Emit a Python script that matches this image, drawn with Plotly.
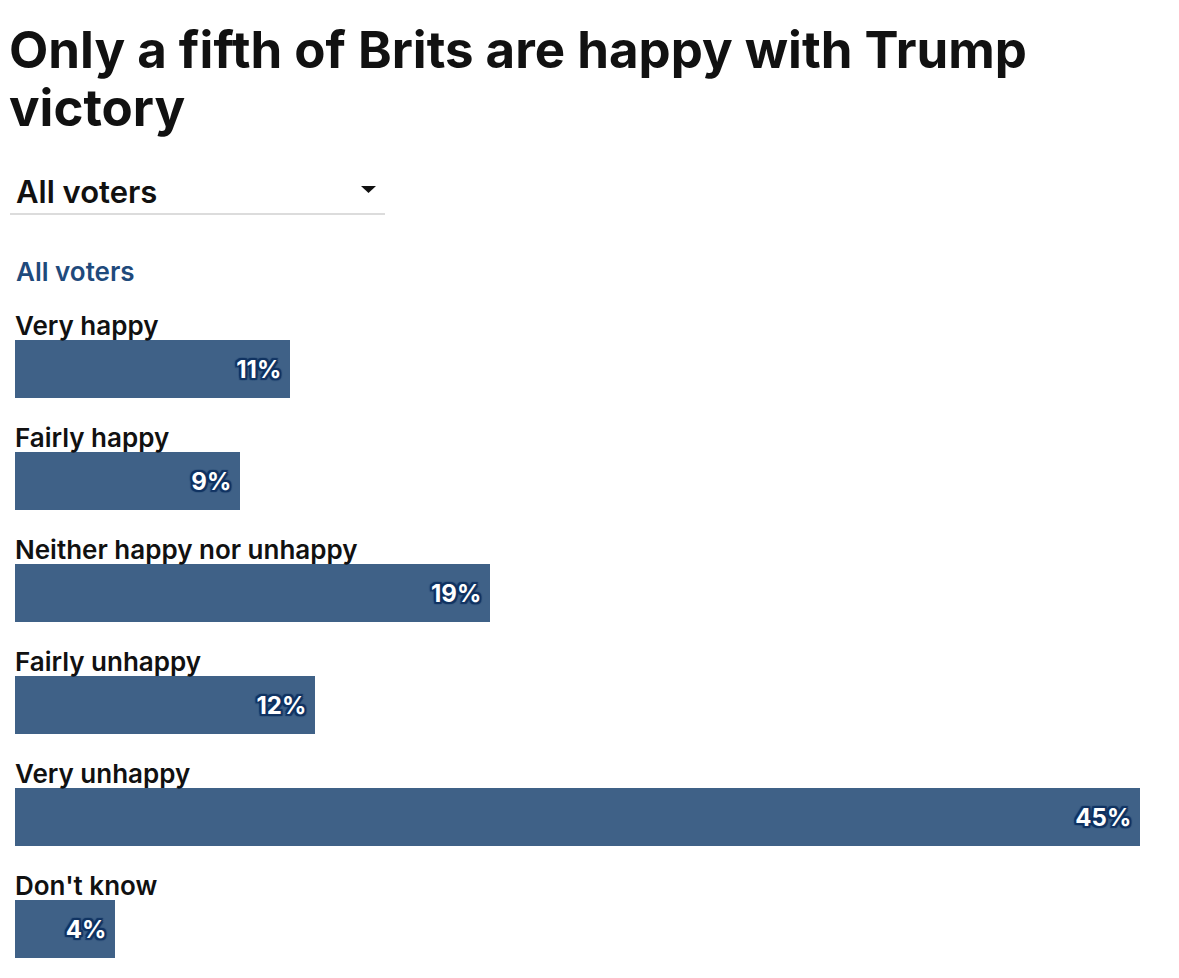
import plotly.graph_objects as go

categories = ["Very happy", "Fairly happy", "Neither happy nor unhappy",
              "Fairly unhappy", "Very unhappy", "Don't know"]
values = [11, 9, 19, 12, 45, 4]
value_labels = ["11%", "9%", "19%", "12%", "45%", "4%"]

title_lines = ["Only a fifth of Brits are happy with Trump", "victory"]
dropdown_text = "All voters"
group_text = "All voters"

OFF = 8  # page body margin
W, H = 1171, 970
ML, MR, MT, MB = 7, 39, 305, 0
PW, PH = W - ML - MR, H - MT - MB

def px(x):
    return (x - OFF - ML) / PW

def py(y):
    return (H - MB - (y - OFF)) / PH

FONT = "Inter, Roboto, Arial, sans-serif"
BAR = "#3f6187"
HALO = "#123463"
shadow = ", ".join(f"{dx}px {dy}px 1px {HALO}" for dx, dy in
                   [(1, 1), (-1, -1), (1, -1), (-1, 1), (2, 0), (-2, 0), (0, 2), (0, -2),
                    (2, 2), (-2, -2), (2, -2), (-2, 2)])

fig = go.Figure(go.Bar(
    x=values,
    y=list(range(len(categories))),
    orientation="h",
    width=0.52,
    marker=dict(color=BAR, line=dict(width=0)),
    text=[v + "\u00a0" for v in value_labels],
    textposition="inside",
    insidetextanchor="end",
    textangle=0,
    textfont=dict(family=FONT, size=24, color="white", weight=700, shadow=shadow),
    cliponaxis=False,
    hoverinfo="skip",
))

annotations = []
for i, c in enumerate(categories):
    annotations.append(dict(
        x=0, y=i, xref="x", yref="y", text=c, showarrow=False,
        xanchor="left", yanchor="middle", yshift=44, xshift=-2,
        font=dict(family=FONT, size=26, color="#111111", weight=600),
    ))

annotations += [
    dict(x=px(7), y=py(50), xref="paper", yref="paper", text=title_lines[0],
         showarrow=False, xanchor="left", yanchor="middle", align="left",
         font=dict(family=FONT, size=51, color="#111111", weight=700)),
    dict(x=px(7), y=py(107), xref="paper", yref="paper", text=title_lines[1],
         showarrow=False, xanchor="left", yanchor="middle", align="left",
         font=dict(family=FONT, size=51, color="#111111", weight=700)),
    dict(x=px(14), y=py(192), xref="paper", yref="paper", text=dropdown_text,
         showarrow=False, xanchor="left", yanchor="middle",
         font=dict(family=FONT, size=31, color="#111111", weight=600)),
    dict(x=px(14), y=py(272), xref="paper", yref="paper", text=group_text,
         showarrow=False, xanchor="left", yanchor="middle",
         font=dict(family=FONT, size=26, color="#1f4a7c", weight=600)),
]

tri_x = [px(361), px(376), px(368.5)]
tri_y = [py(186), py(186), py(193)]
shapes = [
    dict(type="line", xref="paper", yref="paper",
         x0=px(10), x1=px(385), y0=py(214), y1=py(214),
         line=dict(color="#d0d0d0", width=1.5)),
    dict(type="path", xref="paper", yref="paper",
         path=f"M {tri_x[0]} {tri_y[0]} L {tri_x[1]} {tri_y[1]} L {tri_x[2]} {tri_y[2]} Z",
         fillcolor="#111111", line=dict(width=0)),
]

fig.update_layout(
    width=W, height=H,
    margin=dict(l=ML, r=MR, t=MT, b=MB, pad=0),
    paper_bgcolor="white", plot_bgcolor="white",
    showlegend=False,
    xaxis=dict(range=[0, 45], visible=False, fixedrange=True),
    yaxis=dict(range=[PH / 112 - 0.5, -0.5], visible=False, fixedrange=True),
    annotations=annotations,
    shapes=shapes,
    uniformtext=dict(mode=False),
)

fig.write_html("out.html")
